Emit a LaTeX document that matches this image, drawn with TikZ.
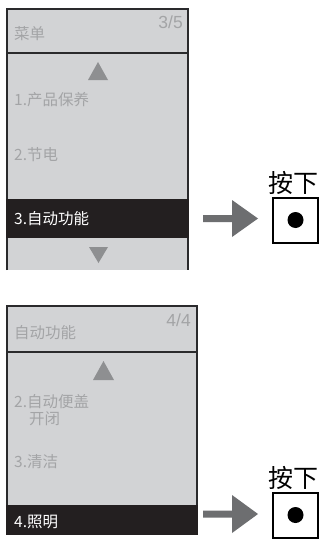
\documentclass[tikz,border=0pt]{standalone}
\usepackage{fontspec}
\setmainfont{Noto Sans CJK SC}
\newfontfamily\numfont{Liberation Sans}
\definecolor{panelbg}{HTML}{D2D3D5}
\definecolor{framec}{HTML}{2A2A2C}
\definecolor{barblack}{HTML}{231F20}
\definecolor{txtgray}{HTML}{A3A4A6}
\definecolor{trigray}{HTML}{8E8F91}
\definecolor{arrowgray}{HTML}{6D6E70}
\tikzset{
  frame/.style={draw=framec, line width=2pt},
  item/.style={anchor=west, inner sep=0pt, text=txtgray, font=\fontsize{15.5}{17}\selectfont},
  selitem/.style={item, text=white},
  pagenum/.style={anchor=east, inner sep=0pt, text=txtgray, font=\numfont\fontsize{17.5}{19}\selectfont},
  btnbox/.style={draw=black, line width=2pt, minimum size=45pt, inner sep=0pt, fill=white},
  btndot/.style={circle, fill=black, minimum size=16pt, inner sep=0pt},
  presslabel/.style={anchor=south, inner sep=0pt, font=\fontsize{25}{27}\selectfont},
  tri/.style={fill=trigray},
  blockarrow/.style={fill=arrowgray}
}
\begin{document}
\begin{tikzpicture}[x=1pt,y=-1pt]
\useasboundingbox[fill=white] (0,0) rectangle (321,543);

% ---------- top panel ----------
\fill[panelbg] (7,9) rectangle (187.7,270);
\draw[frame] (7,270) -- (7,9) -- (187.7,9) -- (187.7,270);
\draw[frame] (7,53) -- (187.7,53);
\fill[barblack] (6,199) rectangle (189,238);
\fill[tri] (88,80) -- (108,80) -- (98,62) -- cycle;
\fill[tri] (89,247) -- (108,247) -- (98.5,263) -- cycle;
\node[item] (h1) at (14,34) {菜单};
\node[pagenum] (p1) at (183,22) {3/5};
\node[item] (a1) at (14,100) {1.产品保养};
\node[item] (a2) at (14,155) {2.节电};
\node[selitem] (a3) at (14,218.5) {3.自动功能};

% arrow and button (top)
\fill[blockarrow] (203,215) -- (232,215) -- (232,200) -- (258,218.5) -- (232,237) -- (232,222) -- (203,222) -- cycle;
\node[btnbox] (b1) at (295.5,220) {};
\node[btndot] (d1) at (b1.center) {};
\node[presslabel] (l1) at (293.5,195) {按下};

% ---------- bottom panel ----------
\fill[panelbg] (7,306) rectangle (196.5,506);
\draw[frame] (7,506) -- (7,306) -- (196.5,306) -- (196.5,506);
\draw[frame] (7,352) -- (196.5,352);
\fill[barblack] (6,505) rectangle (198,535);
\fill[tri] (93,380) -- (114,380) -- (103.5,361) -- cycle;
\node[item] (h2) at (14,333) {自动功能};
\node[pagenum] (p2) at (191,320) {4/4};
\node[item] (c1) at (14,402) {2.自动便盖};
\node[item] (c2) at (29,419) {开闭};
\node[item] (c3) at (14,462) {3.清洁};
\node[selitem] (c4) at (14,522) {4.照明};

% arrow and button (bottom)
\fill[blockarrow] (203,510.5) -- (232,510.5) -- (232,495) -- (258,514) -- (232,533) -- (232,517.5) -- (203,517.5) -- cycle;
\node[btnbox] (b2) at (295.5,515) {};
\node[btndot] (d2) at (b2.center) {};
\node[presslabel] (l2) at (293.5,490) {按下};
\end{tikzpicture}
\end{document}
